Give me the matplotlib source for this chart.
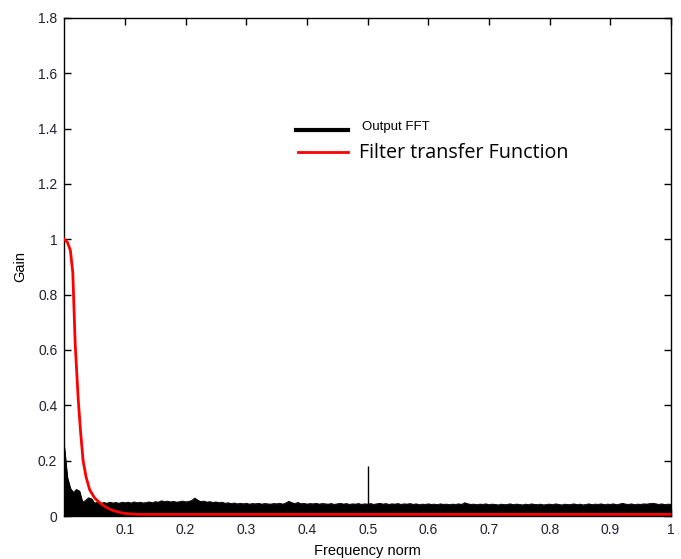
import numpy as np
import matplotlib
matplotlib.use('Agg')
import matplotlib.pyplot as plt

plt.rcParams['font.family'] = ['Liberation Sans', 'DejaVu Sans']

# Output FFT envelope, one value every 0.005 of normalised frequency (0 .. 1)
fft_gain = [
    0.250, 0.140, 0.100, 0.085, 0.096, 0.090, 0.050, 0.056, 0.066, 0.062,
    0.046, 0.051, 0.045, 0.049, 0.046, 0.050, 0.047, 0.049, 0.046, 0.050,
    0.048, 0.050, 0.047, 0.051, 0.048, 0.050, 0.047, 0.049, 0.051, 0.048,
    0.052, 0.050, 0.055, 0.052, 0.054, 0.051, 0.053, 0.050, 0.052, 0.054,
    0.051, 0.053, 0.056, 0.065, 0.057, 0.052, 0.054, 0.050, 0.052, 0.049,
    0.051, 0.048, 0.050, 0.046, 0.048, 0.045, 0.047, 0.044, 0.046, 0.044,
    0.046, 0.043, 0.045, 0.044, 0.046, 0.043, 0.045, 0.044, 0.043, 0.045,
    0.044, 0.046, 0.043, 0.047, 0.053, 0.048, 0.045, 0.049, 0.044, 0.046,
    0.043, 0.045, 0.044, 0.046, 0.043, 0.045, 0.044, 0.043, 0.045, 0.042,
    0.044, 0.046, 0.043, 0.045, 0.042, 0.044, 0.043, 0.045, 0.042, 0.044,
    0.043, 0.045, 0.042, 0.044, 0.046, 0.043, 0.045, 0.042, 0.044, 0.043,
    0.045, 0.042, 0.044, 0.043, 0.045, 0.042, 0.044, 0.041, 0.043, 0.042,
    0.044, 0.042, 0.043, 0.041, 0.044, 0.042, 0.043, 0.041, 0.043, 0.042,
    0.044, 0.042, 0.048, 0.044, 0.042, 0.043, 0.041, 0.043, 0.042, 0.044,
    0.041, 0.043, 0.042, 0.040, 0.043, 0.041, 0.042, 0.044, 0.041, 0.043,
    0.042, 0.040, 0.043, 0.041, 0.044, 0.042, 0.041, 0.043, 0.040, 0.042,
    0.043, 0.041, 0.044, 0.042, 0.040, 0.043, 0.041, 0.042, 0.044, 0.041,
    0.043, 0.040, 0.042, 0.044, 0.041, 0.043, 0.042, 0.044, 0.041, 0.043,
    0.042, 0.044, 0.041, 0.043, 0.046, 0.043, 0.042, 0.044, 0.041, 0.043,
    0.042, 0.044, 0.043, 0.045, 0.046, 0.044, 0.042, 0.044, 0.041, 0.043,
    0.042,
]
fft_freq = np.linspace(0, 1, len(fft_gain))

# single tone peak
spike_freq = [0.5]
spike_gain = [0.18]

# filter transfer function
filt_freq = [0, 0.005, 0.010, 0.014, 0.018, 0.023, 0.027, 0.031, 0.036, 0.042,
             0.050, 0.059, 0.070, 0.080, 0.097, 0.120, 1.0]
filt_gain = [1.0, 0.99, 0.96, 0.88, 0.62, 0.42, 0.30, 0.20, 0.14, 0.094,
             0.065, 0.047, 0.030, 0.020, 0.010, 0.006, 0.006]

xticks = [0.1, 0.2, 0.3, 0.4, 0.5, 0.6, 0.7, 0.8, 0.9, 1]
yticks = [0, 0.2, 0.4, 0.6, 0.8, 1, 1.2, 1.4, 1.6, 1.8]

fig = plt.figure(figsize=(6.81, 5.59), dpi=100)
ax = fig.add_axes([0.0944, 0.0769, 0.891, 0.891])

ax.fill_between(fft_freq, 0, fft_gain, color='black', linewidth=0.6, zorder=2)
ax.plot(fft_freq, fft_gain, color='black', linewidth=0.6, zorder=2)
ax.vlines(spike_freq, 0, spike_gain, color='black', linewidth=1.0, zorder=2)
ax.plot(filt_freq, filt_gain, color='red', linewidth=2, zorder=3)

ax.set_xlim(0, 1)
ax.set_ylim(0, 1.8)
ax.set_xticks(xticks)
ax.set_yticks(yticks)
ax.set_xticklabels([f'{v:g}' for v in xticks])
ax.set_yticklabels([f'{v:g}' for v in yticks])
ax.tick_params(direction='in', length=5, width=1, top=True, right=True,
               labelsize=10, labelcolor='#202030', pad=5)
for s in ax.spines.values():
    s.set_linewidth(1)

ax.set_xlabel('Frequency norm', fontsize=10.5, labelpad=5)
ax.set_ylabel('Gain', fontsize=10.5, labelpad=8)

# hand-placed legend
ax.plot([0.382, 0.468], [0.775, 0.775], color='black', linewidth=3,
        transform=ax.transAxes, zorder=4)
ax.plot([0.385, 0.468], [0.731, 0.731], color='red', linewidth=2,
        transform=ax.transAxes, zorder=4)
ax.text(0.491, 0.781, 'Output FFT', transform=ax.transAxes, fontsize=9.5,
        va='center', ha='left')
ax.text(0.486, 0.729, 'Filter transfer Function', transform=ax.transAxes,
        fontsize=14.2, va='center', ha='left', family=['Open Sans', 'DejaVu Sans'])

fig.savefig('out.png', dpi=100)
